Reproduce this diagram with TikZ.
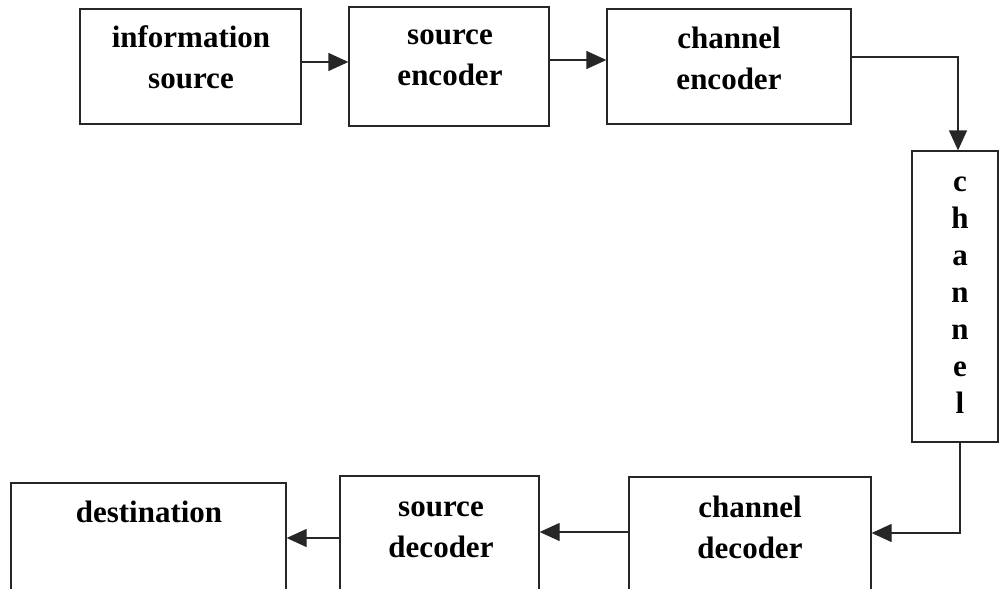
\documentclass[tikz,border=0pt]{standalone}
\usepackage{fontspec}
\setmainfont{Liberation Serif}
\usetikzlibrary{arrows.meta}
\begin{document}
\begin{tikzpicture}[x=1pt,y=-1pt,
  box/.style={draw=black!85, line width=1.3pt, rectangle, inner sep=0pt},
  lbl/.style={font=\fontsize{31}{41}\selectfont\bfseries, align=center, inner sep=0pt},
  conn/.style={draw=black!85, line width=1.3pt, -{Triangle[length=20pt,width=18pt]}}]
\useasboundingbox (0,0) rectangle (999,589);
\clip (0,0) rectangle (999,589);
% boxes
\node[box, minimum width=221pt, minimum height=115pt] (b1) at (190.5,66.5) {};
\node[box, minimum width=200pt, minimum height=119pt] (b2) at (449,66.5) {};
\node[box, minimum width=244pt, minimum height=115pt] (b3) at (729,66.5) {};
\node[box, minimum width=86pt, minimum height=291pt] (ch) at (955,296.5) {};
\node[box, minimum width=242pt, minimum height=143pt] (cd) at (750,548.5) {};
\node[box, minimum width=199pt, minimum height=144pt] (sd) at (439.5,548) {};
\node[box, minimum width=275pt, minimum height=137pt] (de) at (148.5,551.5) {};
% texts
\node[lbl] (t1) at (191,57) {information\\source};
\node[lbl] (t2) at (450,58) {source\\encoder};
\node[lbl] (t3) at (729,58) {channel\\encoder};
\node[lbl, font=\fontsize{31}{37}\selectfont\bfseries] (t4) at (960,295) {c\\h\\a\\n\\n\\e\\l};
\node[lbl] (t5) at (750,527) {channel\\decoder};
\node[lbl] (t6) at (441,530) {source\\decoder};
\node[lbl] (t7) at (149,512) {destination};
% connectors
\draw[conn] ([yshift=4.5pt]b1.east) -- ([yshift=4.5pt]b1.east -| b2.west);
\draw[conn] ([yshift=6.5pt]b2.east) -- ([yshift=6.5pt]b2.east -| b3.west);
\draw[conn] ([yshift=9.5pt]b3.east) -| ([xshift=3pt]ch.north);
\draw[conn] ([xshift=5pt]ch.south) |- ([yshift=15.5pt]cd.east);
\draw[conn] ([yshift=16.5pt]cd.west) -- ([yshift=16.5pt]cd.west -| sd.east);
\draw[conn] ([yshift=10pt]sd.west) -- ([yshift=10pt]sd.west -| de.east);
\end{tikzpicture}
\end{document}
